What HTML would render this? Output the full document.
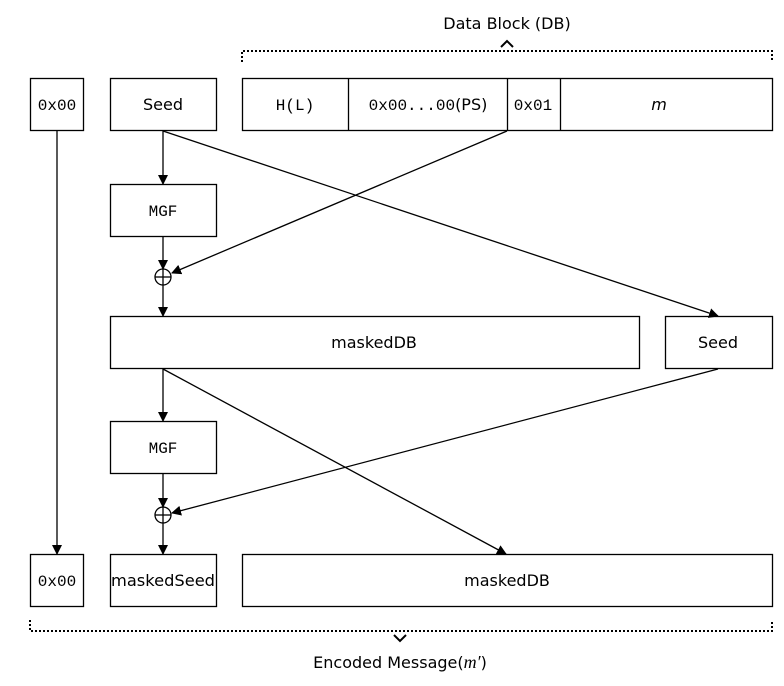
<!DOCTYPE html><html><head><style>body{margin:0;background:#fff}svg{display:block}text{font-family:"DejaVu Sans","Liberation Sans",sans-serif;font-size:16px}.m{font-family:"Liberation Mono",monospace;font-size:16px}</style></head><body>
<svg width="784" height="686" viewBox="0 0 784 686">
<defs><marker id="a" markerWidth="10" markerHeight="10" refX="9" refY="5" orient="auto" markerUnits="userSpaceOnUse"><path d="M0,0L10,5L0,10z" fill="#000"/></marker></defs>
<g fill="none" stroke="#000" stroke-width="1.3">
<rect x="30.5" y="78.5" width="53" height="52"/><rect x="110.5" y="78.5" width="106" height="52"/>
<rect x="242.5" y="78.5" width="530" height="52"/><line x1="348.5" y1="78" x2="348.5" y2="130"/><line x1="507.5" y1="78" x2="507.5" y2="130"/><line x1="560.5" y1="78" x2="560.5" y2="130"/>
<rect x="110.5" y="184.5" width="106" height="52"/>
<circle cx="163" cy="277" r="8"/><line x1="155" y1="277" x2="171" y2="277"/><line x1="163" y1="269" x2="163" y2="285"/>
<rect x="110.5" y="316.5" width="529" height="52"/><rect x="665.5" y="316.5" width="107" height="52"/>
<rect x="110.5" y="421.5" width="106" height="52"/>
<circle cx="163" cy="515" r="8"/><line x1="155" y1="515" x2="171" y2="515"/><line x1="163" y1="507" x2="163" y2="523"/>
<rect x="30.5" y="554.5" width="53" height="52"/><rect x="110.5" y="554.5" width="106" height="52"/><rect x="242.5" y="554.5" width="530" height="52"/>
<g marker-end="url(#a)">
<line x1="163" y1="131" x2="163" y2="184"/><line x1="163" y1="131" x2="718" y2="316"/>
<line x1="507" y1="131" x2="172" y2="273"/><line x1="163" y1="237" x2="163" y2="269"/>
<line x1="163" y1="285" x2="163" y2="316"/><line x1="163" y1="369" x2="163" y2="421"/>
<line x1="163" y1="369" x2="506" y2="554"/><line x1="718" y1="369" x2="172" y2="513"/>
<line x1="163" y1="474" x2="163" y2="507"/><line x1="163" y1="523" x2="163" y2="554"/>
<line x1="57" y1="131" x2="57" y2="554"/></g>
<g stroke-width="2" stroke-dasharray="2,2"><path d="M242,62V51H772V62"/><path d="M30,620V631H772V620"/></g>
<path d="M501,47L507,41L513,47" stroke-width="2"/><path d="M394,635L400,641L406,635" stroke-width="2"/>
</g>
<g text-anchor="middle">
<text x="507" y="29">Data Block (DB)</text>
<text class="m" x="57" y="110">0x00</text><text x="163" y="110">Seed</text>
<text class="m" x="295" y="110">H(L)</text><text x="428" y="110"><tspan class="m">0x00...00</tspan>(PS)</text>
<text class="m" x="533" y="110">0x01</text><text x="659" y="110" font-style="italic" font-family="Liberation Serif,serif" font-size="18">m</text>
<text class="m" x="163" y="216">MGF</text><text x="374" y="348">maskedDB</text><text x="718" y="348">Seed</text>
<text class="m" x="163" y="453">MGF</text>
<text class="m" x="57" y="586">0x00</text><text x="163" y="586" textLength="104" lengthAdjust="spacingAndGlyphs">maskedSeed</text><text x="507" y="586">maskedDB</text>
<text x="400" y="668">Encoded Message(<tspan font-style="italic" font-family="Liberation Serif,serif" font-size="18">m′</tspan>)</text>
</g></svg></body></html>
